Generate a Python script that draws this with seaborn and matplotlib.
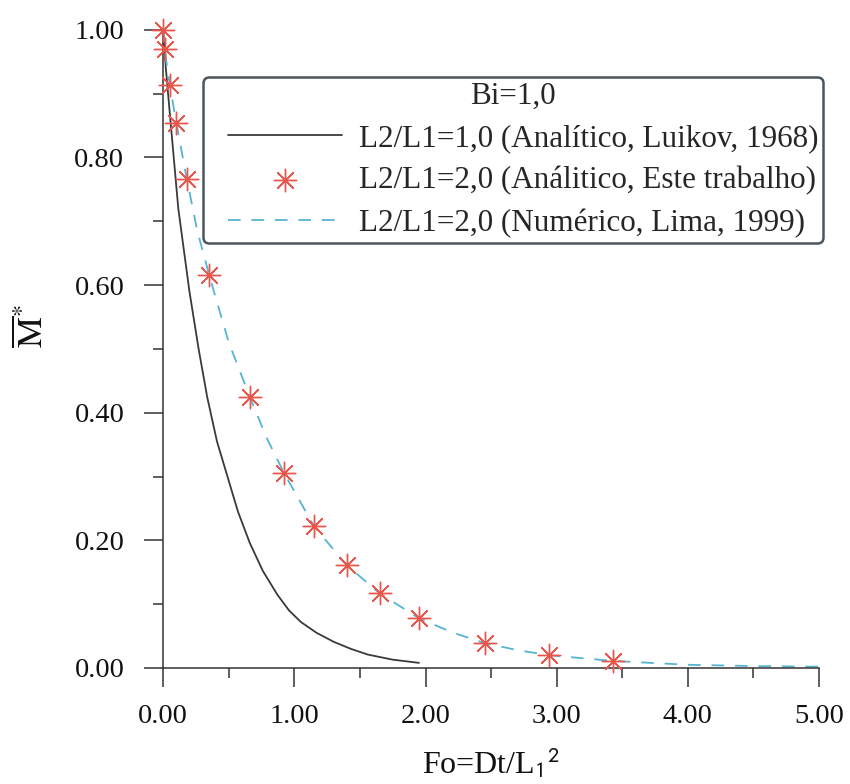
import matplotlib
matplotlib.use("Agg")
import matplotlib.pyplot as plt
from matplotlib.ticker import MultipleLocator, FormatStrFormatter
from matplotlib.legend_handler import HandlerLine2D, HandlerPathCollection
from matplotlib.lines import Line2D
from matplotlib.collections import PathCollection
import seaborn as sns
import pandas as pd

# --- data ---
fo_luikov = [0.0, 0.02, 0.05, 0.115, 0.20, 0.27, 0.335, 0.41, 0.49, 0.57, 0.66, 0.76,
             0.87, 0.96, 1.05, 1.17, 1.30, 1.43, 1.56, 1.75, 1.95]
m_luikov = [1.0, 0.94, 0.87, 0.72, 0.59, 0.50, 0.425, 0.355, 0.30, 0.245, 0.196, 0.152,
            0.115, 0.090, 0.072, 0.055, 0.041, 0.030, 0.021, 0.013, 0.008]

fo_este = [0.0, 0.01, 0.05, 0.10, 0.18, 0.35, 0.66, 0.92, 1.15, 1.40, 1.65, 1.95, 2.45, 2.94, 3.43]
m_este = [1.0, 0.97, 0.914, 0.854, 0.766, 0.616, 0.425, 0.306, 0.222, 0.161, 0.117, 0.078, 0.039, 0.020, 0.011]

fo_lima = [0.0, 0.01, 0.05, 0.10, 0.18, 0.26, 0.35, 0.50, 0.66, 0.79, 0.92, 1.15, 1.40, 1.65, 1.95,
           2.20, 2.45, 2.70, 2.94, 3.43, 4.0, 4.5, 5.0]
m_lima = [1.0, 0.97, 0.914, 0.854, 0.766, 0.685, 0.616, 0.51, 0.425, 0.36, 0.306, 0.222, 0.161,
          0.117, 0.078, 0.056, 0.039, 0.028, 0.020, 0.011, 0.005, 0.003, 0.002]

labels = ["L2/L1=1,0 (Analítico, Luikov, 1968)",
          "L2/L1=2,0 (Análitico, Este trabalho)",
          "L2/L1=2,0 (Numérico, Lima, 1999)"]
legend_title = "Bi=1,0"
x_ticks = [0, 1, 2, 3, 4, 5]
y_ticks = [0.0, 0.2, 0.4, 0.6, 0.8, 1.0]

df_l = pd.DataFrame({"fo": fo_luikov, "m": m_luikov})
df_e = pd.DataFrame({"fo": fo_este, "m": m_este})
df_n = pd.DataFrame({"fo": fo_lima, "m": m_lima})

sns.set_theme(style="ticks")
plt.rcParams["font.family"] = ["Liberation Serif", "DejaVu Serif"]
plt.rcParams["mathtext.fontset"] = "stix"

fig = plt.figure(figsize=(8.5, 7.84), dpi=100)
ax = fig.add_axes([0.192, 0.148, 0.7715, 0.814])

FS_TICK = 20.5
FS_LEG = 22.4
dark = "#333333"
txt = "#111111"

sns.lineplot(data=df_l, x="fo", y="m", ax=ax, color="#3a3a3a", linewidth=1.3,
             estimator=None, sort=False, label=labels[0])
sns.scatterplot(data=df_e, x="fo", y="m", ax=ax, marker=(8, 2, 0), s=260,
                color="#e9574c", linewidth=1.0, label=labels[1], zorder=3, clip_on=False)
sns.lineplot(data=df_n, x="fo", y="m", ax=ax, color="#56b4d3", linewidth=1.3,
             estimator=None, sort=False, label=labels[2], zorder=2)
ax.lines[-1].set_dashes([7, 6])

ax.set_xlim(0, 5)
ax.set_ylim(0, 1.0)
ax.set_xticks(x_ticks)
ax.set_yticks(y_ticks)
ax.xaxis.set_minor_locator(MultipleLocator(0.5))
ax.yaxis.set_minor_locator(MultipleLocator(0.1))
ax.xaxis.set_major_formatter(FormatStrFormatter("%.2f"))
ax.yaxis.set_major_formatter(FormatStrFormatter("%.2f"))
ax.tick_params(which="major", length=14, width=1.1, color=dark, labelsize=FS_TICK,
               labelcolor=txt, direction="out")
ax.tick_params(axis="y", which="major", pad=14)
ax.tick_params(axis="x", which="major", pad=12)
ax.tick_params(which="minor", length=7.5, width=1.1, color=dark, direction="out")
for s in ["top", "right"]:
    ax.spines[s].set_visible(False)
for s in ["left", "bottom"]:
    ax.spines[s].set_color(dark)
    ax.spines[s].set_linewidth(1.1)

ax.set_xlabel(r"Fo=Dt/L$_{\mathsf{1}}{}^{\mathsf{2}}$", fontsize=23, color=txt, labelpad=12)
ax.set_ylabel(r"$\overline{\mathrm{M}}^{*}$", fontsize=25, color=txt)
ax.yaxis.set_label_coords(-0.172, 0.535)

h, l = ax.get_legend_handles_labels()
XPAD = 0.66
leg = ax.legend(h, l, title=legend_title, fontsize=FS_LEG, title_fontsize=FS_LEG,
                loc="upper right", bbox_to_anchor=(0.968, 0.902),
                bbox_transform=fig.transFigure, frameon=True, fancybox=True,
                handlelength=4.30, handletextpad=0.55, labelspacing=0.43,
                borderpad=0.15, borderaxespad=0,
                handler_map={Line2D: HandlerLine2D(xpad=XPAD),
                             PathCollection: HandlerPathCollection(xpad=XPAD)})
fr = leg.get_frame()
fr.set_edgecolor("#4a5560")
fr.set_linewidth(1.8)
fr.set_facecolor("white")
fr.set_alpha(1.0)

fig.savefig("out.png", dpi=100)
